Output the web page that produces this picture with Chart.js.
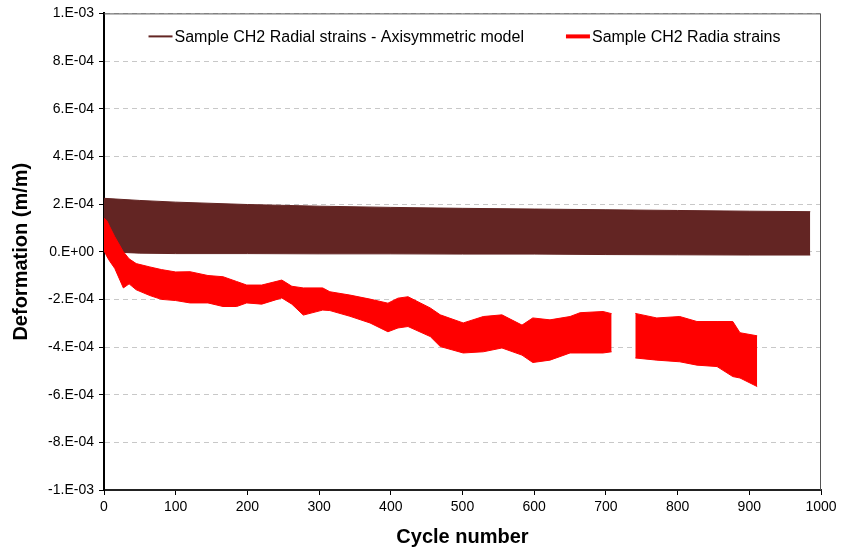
<!DOCTYPE html>
<html>
<head>
<meta charset="utf-8">
<script src="https://cdn.jsdelivr.net/npm/chart.js@4.4.0/dist/chart.umd.min.js"></script>
<style>
  html, body { margin: 0; padding: 0; background: #ffffff; }
  #wrap { width: 841px; height: 549px; }
</style>
</head>
<body>
<div id="wrap"><canvas id="strainChart" width="841" height="549"></canvas></div>
<script>
// values in units of 1e-4 m/m
const brownCycles = [0, 50, 100, 200, 300, 400, 500, 600, 700, 800, 900, 985];
const brownTop    = [2.24, 2.15, 2.08, 1.98, 1.91, 1.86, 1.82, 1.79, 1.76, 1.73, 1.70, 1.68];
const brownBottom = [0.00, -0.06, -0.08, -0.08, -0.09, -0.09, -0.10, -0.10, -0.12, -0.13, -0.14, -0.14];

const redCycles = [0, 4, 8, 15, 27, 35, 45, 64, 80, 100, 120, 145, 166, 185, 199, 220, 248, 262, 278, 305,
  315, 343, 371, 396, 410, 424, 455, 469, 501, 529, 555, 583, 598, 622, 650, 664, 696, 708,
  724, 741, 771, 803, 827, 855, 877, 887, 911];
const redTop = [1.41, 1.30, 1.05, 0.63, 0.00, -0.30, -0.50, -0.64, -0.75, -0.85, -0.84, -1.00, -1.05, -1.25, -1.40, -1.40, -1.19, -1.45, -1.52, -1.52,
  -1.68, -1.82, -1.99, -2.16, -1.95, -1.89, -2.36, -2.65, -2.99, -2.72, -2.65, -3.08, -2.78, -2.86, -2.72, -2.56, -2.51, -2.60,
  null, -2.59, -2.78, -2.72, -2.93, -2.93, -2.93, -3.40, -3.53];
const redBottom = [0.05, -0.20, -0.40, -0.70, -1.52, -1.35, -1.60, -1.84, -2.00, -2.05, -2.15, -2.15, -2.30, -2.30, -2.15, -2.20, -1.94, -2.20, -2.66, -2.45,
  -2.47, -2.71, -2.99, -3.36, -3.20, -3.14, -3.56, -3.98, -4.25, -4.20, -4.04, -4.34, -4.65, -4.55, -4.25, -4.25, -4.25, -4.20,
  null, -4.46, -4.55, -4.62, -4.76, -4.82, -5.24, -5.30, -5.66];

const legendLabels = ["Sample CH2 Radial strains - Axisymmetric model", "Sample CH2 Radia strains"];
const yTicks = [-1e-3, -8e-4, -6e-4, -4e-4, -2e-4, 0, 2e-4, 4e-4, 6e-4, 8e-4, 1e-3];

const BROWN = "#632523";
const RED = "#ff0000";
const FONT = "'Liberation Sans', Arial, sans-serif";

function toPoints(xs, ys) {
    return xs.map((x, i) => ({ x: x, y: ys[i] === null ? null : ys[i] * 1e-4 }));
}

function formatTick(v) {
    if (Math.abs(v) < 1e-12) return "0.E+00";
    const exp = Math.floor(Math.log10(Math.abs(v)) + 1e-9);
    const mant = Math.round(v / Math.pow(10, exp));
    const e = Math.abs(exp);
    return mant + ".E" + (exp < 0 ? "-" : "+") + (e < 10 ? "0" + e : e);
}

// legend drawn inside the plot box, near its top
const insideLegend = {
    id: "insideLegend",
    afterDraw(chart) {
        const ctx = chart.ctx;
        const area = chart.chartArea;
        const items = [
            { text: legendLabels[0], color: BROWN, width: 2 },
            { text: legendLabels[1], color: RED, width: 4 }
        ];
        const lineLen = 24, gap = 2, spacing = 42;
        ctx.save();
        ctx.font = "16px " + FONT;
        let total = 0;
        items.forEach((it, i) => {
            it.tw = ctx.measureText(it.text).width;
            total += lineLen + gap + it.tw + (i > 0 ? spacing : 0);
        });
        let x = (area.left + area.right) / 2 - total / 2 + 2;
        const y = area.top + 23;
        ctx.textBaseline = "middle";
        ctx.fillStyle = "#000";
        items.forEach((it) => {
            ctx.strokeStyle = it.color;
            ctx.lineWidth = it.width;
            ctx.beginPath();
            ctx.moveTo(x, y);
            ctx.lineTo(x + lineLen, y);
            ctx.stroke();
            ctx.fillText(it.text, x + lineLen + gap, y + 1);
            x += lineLen + gap + it.tw + spacing;
        });
        ctx.restore();
    }
};

// top and right frame of the plot area
const plotFrame = {
    id: "plotFrame",
    afterDatasetsDraw(chart) {
        const ctx = chart.ctx;
        const a = chart.chartArea;
        ctx.save();
        ctx.strokeStyle = "#555555";
        ctx.lineWidth = 1;
        ctx.beginPath();
        ctx.moveTo(a.left, a.top + 0.5);
        ctx.lineTo(a.right - 0.5, a.top + 0.5);
        ctx.lineTo(a.right - 0.5, a.bottom);
        ctx.stroke();
        ctx.restore();
    }
};

const ctx = document.getElementById("strainChart").getContext("2d");
new Chart(ctx, {
    type: "line",
    data: {
        datasets: [
            {
                label: legendLabels[1],
                data: toPoints(redCycles, redTop),
                borderColor: RED,
                backgroundColor: RED,
                borderWidth: 1,
                pointRadius: 0,
                fill: "+1",
                spanGaps: false,
                tension: 0
            },
            {
                label: legendLabels[1] + " (min)",
                data: toPoints(redCycles, redBottom),
                borderColor: RED,
                borderWidth: 1,
                pointRadius: 0,
                fill: false,
                spanGaps: false,
                tension: 0
            },
            {
                label: legendLabels[0],
                data: toPoints(brownCycles, brownTop),
                borderColor: BROWN,
                backgroundColor: BROWN,
                borderWidth: 1,
                pointRadius: 0,
                fill: "+1",
                tension: 0
            },
            {
                label: legendLabels[0] + " (min)",
                data: toPoints(brownCycles, brownBottom),
                borderColor: BROWN,
                borderWidth: 1,
                pointRadius: 0,
                fill: false,
                tension: 0
            }
        ]
    },
    options: {
        responsive: false,
        animation: false,
        layout: { padding: { top: 13, right: 20, left: 0, bottom: 0 } },
        plugins: {
            legend: { display: false },
            tooltip: { enabled: false }
        },
        scales: {
            x: {
                type: "linear",
                min: 0,
                max: 1000,
                ticks: {
                    stepSize: 100,
                    color: "#000",
                    padding: 4,
                    maxRotation: 0,
                    callback: (v) => String(v),
                    font: { family: FONT, size: 14 }
                },
                grid: { drawOnChartArea: false, tickLength: 5, tickColor: "#000", tickWidth: 1 },
                border: { color: "#222", width: 2 },
                title: {
                    display: true,
                    text: "Cycle number",
                    color: "#000",
                    padding: { top: 5, bottom: 0 },
                    font: { family: FONT, size: 20, weight: "bold" }
                },
                afterFit(scale) { scale.height = 59; }
            },
            y: {
                min: -1e-3,
                max: 1e-3,
                afterBuildTicks(scale) { scale.ticks = yTicks.map(v => ({ value: v })); },
                ticks: {
                    color: "#000",
                    padding: 5,
                    callback: (v) => formatTick(v),
                    font: { family: FONT, size: 14 }
                },
                grid: { color: "#c8c8c8", tickLength: 5, tickColor: "#000", tickWidth: 1, tickBorderDash: [] },
                border: { color: "#000", width: 2, dash: [5, 4] },
                title: {
                    display: true,
                    text: "Deformation (m/m)",
                    color: "#000",
                    padding: { top: 9, bottom: 0 },
                    font: { family: FONT, size: 20, weight: "bold" }
                },
                afterFit(scale) { scale.width = 104; }
            }
        }
    },
    plugins: [plotFrame, insideLegend]
});
</script>
</body>
</html>
